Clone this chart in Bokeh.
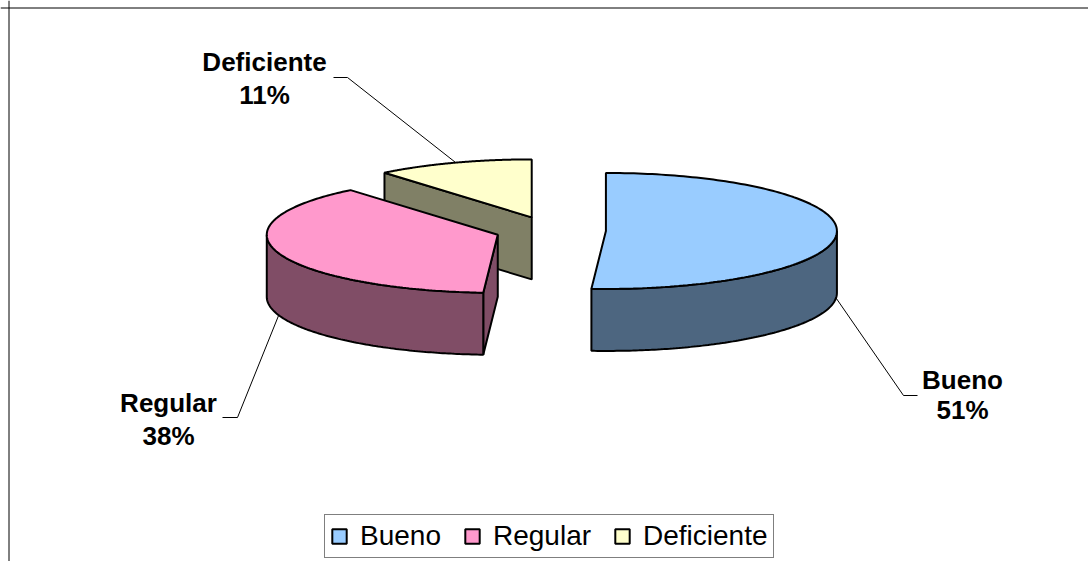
import numpy as np
from bokeh.plotting import figure
from bokeh.models import Range1d, Legend, LegendItem, Span
from bokeh.embed import file_html
from bokeh.resources import INLINE
from bokeh.core.properties import value

# ---------------- data ----------------
categories = ["Bueno", "Regular", "Deficiente"]
shares = [51, 38, 11]
top_colors = ["#99CCFF", "#FF99CC", "#FFFFCC"]
side_colors = ["#4D6680", "#804D66", "#808066"]

# ---------------- layout (page pixels) ----------------
W, H = 1088, 561
CX, CY = 550, 230          # pie centre
RX, RY = 231, 58           # ellipse radii of the top face
DEPTH = 62                 # pie thickness
EXPLODE = 0.24             # explosion as fraction of radius
FONT = "Liberation Sans"

# label layout: rim anchor angle, rim level, elbow, end of leader, text centre x, baselines
label_layout = {
    "Bueno":      dict(angle=95.0,  level="bottom", elbow=(903, 395), end=(917, 395), tx=962, by=(379, 409)),
    "Regular":    dict(angle=251.5, level="bottom", elbow=(237, 417), end=(222, 417), tx=168, by=(402, 435)),
    "Deficiente": dict(angle=340.8, level="top",    elbow=(347, 77),  end=(333, 77),  tx=264, by=(61, 94)),
}

p = figure(width=W, height=H, x_range=Range1d(0, W), y_range=Range1d(H, 0),
           output_backend="svg", toolbar_location=None, x_axis_type=None, y_axis_type=None,
           min_border=0, outline_line_color=None, background_fill_color="white")
p.grid.visible = False

# chart border (left and top visible in the crop)
p.add_layout(Span(location=8.5, dimension="height", line_color="#000000", line_width=1))
p.add_layout(Span(location=7.5, dimension="width", line_color="#000000", line_width=1))

total = float(sum(shares))
slices = []
start = 0.0
for cat, s, tc, sc in zip(categories, shares, top_colors, side_colors):
    a0 = start
    a1 = start + 360.0 * s / total
    start = a1
    m = np.radians((a0 + a1) / 2)
    cx = CX + EXPLODE * RX * np.sin(m)
    cy = CY - EXPLODE * RY * np.cos(m)
    slices.append(dict(cat=cat, share=s, a0=a0, a1=a1, cx=cx, cy=cy, tc=tc, sc=sc))


def rim(sl, th_deg, level="top"):
    t = np.radians(th_deg)
    x = sl["cx"] + RX * np.sin(t)
    y = sl["cy"] - RY * np.cos(t) + (DEPTH if level == "bottom" else 0)
    return x, y


top_renderers = {}
for sl in sorted(slices, key=lambda d: d["cy"]):
    a0, a1, cx, cy = sl["a0"], sl["a1"], sl["cx"], sl["cy"]
    xs, ys = [], []
    # start radial face
    if np.sin(np.radians(a0)) < -1e-6:
        rx_, ry_ = rim(sl, a0)
        xs.append([cx, rx_, rx_, cx])
        ys.append([cy, ry_, ry_ + DEPTH, cy + DEPTH])
    # end radial face
    if np.sin(np.radians(a1)) > 1e-6:
        rx_, ry_ = rim(sl, a1)
        xs.append([cx, rx_, rx_, cx])
        ys.append([cy, ry_, ry_ + DEPTH, cy + DEPTH])
    # outer wall (front half)
    lo, hi = max(a0, 90.0), min(a1, 270.0)
    if lo < hi:
        th = np.linspace(lo, hi, 120)
        tx, ty = rim(sl, th)
        xs.append(list(tx) + list(tx[::-1]))
        ys.append(list(ty) + list((ty + DEPTH)[::-1]))
    if xs:
        p.patches(xs=xs, ys=ys, fill_color=sl["sc"], line_color="black", line_width=2)
    # top face
    th = np.linspace(a0, a1, 160)
    tx, ty = rim(sl, th)
    r = p.patch(x=[cx] + list(tx), y=[cy] + list(ty), fill_color=sl["tc"],
                line_color="black", line_width=2)
    top_renderers[sl["cat"]] = r

# leader lines and labels
lx, ly, names, pcts, tx_, b1, b2 = [], [], [], [], [], [], []
for sl in slices:
    L = label_layout[sl["cat"]]
    ax, ay = rim(sl, L["angle"], L["level"])
    lx.append([ax, L["elbow"][0], L["end"][0]])
    ly.append([ay, L["elbow"][1], L["end"][1]])
    names.append(sl["cat"])
    pcts.append(f"{sl['share']}%")
    tx_.append(L["tx"])
    b1.append(L["by"][0])
    b2.append(L["by"][1])

p.multi_line(xs=lx, ys=ly, line_color="black", line_width=1)
common = dict(text_font=value(FONT), text_font_style="bold", text_font_size="26px",
              text_align="center", text_baseline="alphabetic", text_color="black")
p.text(x=tx_, y=b1, text=names, **common)
p.text(x=tx_, y=b2, text=pcts, **common)

legend = Legend(items=[LegendItem(label=c, renderers=[top_renderers[c]]) for c in categories],
                orientation="horizontal", location=(324, 3),
                label_text_font=FONT, label_text_font_size="28px", label_text_color="black",
                glyph_width=18, glyph_height=18, label_standoff=12, spacing=22,
                padding=5, margin=0, border_line_color="black", border_line_width=1,
                background_fill_color="white", background_fill_alpha=1)
p.add_layout(legend)

open("out.html", "w").write(file_html(p, INLINE))
